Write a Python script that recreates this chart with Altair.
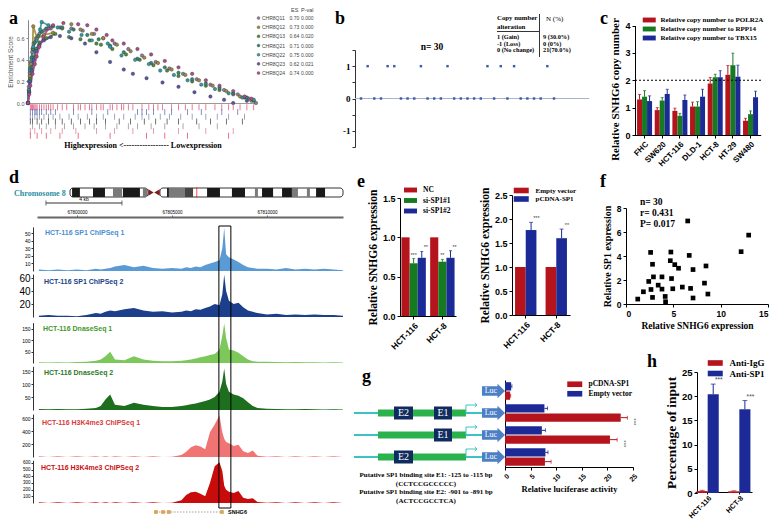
import altair as alt
import pandas as pd

# ============================ DATA ============================
# (a) GSEA of chromosome 8q cytobands
gsea_sets = ["CHR8Q11", "CHR8Q12", "CHR8Q13", "CHR8Q21", "CHR8Q22", "CHR8Q23", "CHR8Q24"]
gsea_es = [0.70, 0.73, 0.64, 0.71, 0.75, 0.62, 0.74]
gsea_p = ["0.000", "0.000", "0.020", "0.000", "0.000", "0.021", "0.000"]

q11_rank = [0, 0.004, 0.008, 0.012, 0.018, 0.025, 0.035, 0.05, 0.07, 0.1, 0.14, 0.19, 0.24, 0.29, 0.33, 0.38, 0.44, 0.5, 0.56, 0.62, 0.68, 0.74, 0.8, 0.86, 0.92, 0.97, 1.0]
q11_es = [0, 0.15, 0.28, 0.38, 0.47, 0.55, 0.6, 0.64, 0.67, 0.69, 0.70, 0.69, 0.67, 0.64, 0.6, 0.55, 0.5, 0.44, 0.38, 0.32, 0.27, 0.22, 0.17, 0.12, 0.08, 0.04, 0.0]
q12_rank = [0, 0.004, 0.008, 0.013, 0.02, 0.023, 0.04, 0.07, 0.11, 0.15, 0.19, 0.23, 0.28, 0.33, 0.39, 0.45, 0.51, 0.57, 0.63, 0.69, 0.75, 0.81, 0.87, 0.93, 0.98]
q12_es = [0, 0.12, 0.25, 0.36, 0.5, 0.71, 0.6, 0.63, 0.65, 0.69, 0.73, 0.68, 0.64, 0.6, 0.54, 0.48, 0.42, 0.37, 0.31, 0.26, 0.21, 0.16, 0.11, 0.06, 0.02]
q13_rank = [0, 0.005, 0.01, 0.016, 0.024, 0.035, 0.05, 0.08, 0.12, 0.18, 0.23, 0.27, 0.3, 0.32, 0.37, 0.43, 0.49, 0.55, 0.61, 0.66, 0.72, 0.78, 0.84, 0.9, 0.95, 0.99]
q13_es = [0, 0.1, 0.22, 0.33, 0.42, 0.5, 0.56, 0.6, 0.64, 0.61, 0.59, 0.58, 0.55, 0.54, 0.5, 0.45, 0.4, 0.35, 0.3, 0.25, 0.2, 0.16, 0.12, 0.08, 0.05, 0.02]
q21_rank = [0, 0.004, 0.009, 0.015, 0.022, 0.03, 0.045, 0.06, 0.08, 0.11, 0.15, 0.2, 0.26, 0.31, 0.36, 0.42, 0.48, 0.54, 0.6, 0.66, 0.72, 0.78, 0.84, 0.9, 0.96]
q21_es = [0, 0.2, 0.32, 0.42, 0.5, 0.56, 0.62, 0.66, 0.69, 0.71, 0.7, 0.68, 0.63, 0.59, 0.53, 0.47, 0.41, 0.37, 0.33, 0.28, 0.22, 0.18, 0.14, 0.09, 0.05]
q22_rank = [0, 0.004, 0.009, 0.016, 0.023, 0.038, 0.053, 0.06, 0.09, 0.13, 0.18, 0.235, 0.28, 0.35, 0.36, 0.41, 0.47, 0.53, 0.58, 0.64, 0.7, 0.76, 0.82, 0.88, 0.94, 0.99]
q22_es = [0, 0.12, 0.3, 0.4, 0.52, 0.58, 0.68, 0.75, 0.72, 0.7, 0.66, 0.63, 0.58, 0.55, 0.52, 0.44, 0.4, 0.36, 0.3, 0.26, 0.21, 0.17, 0.13, 0.09, 0.05, 0.03]
q23_rank = [0, 0.005, 0.01, 0.017, 0.025, 0.035, 0.05, 0.07, 0.1, 0.14, 0.19, 0.25, 0.3, 0.36, 0.42, 0.46, 0.52, 0.59, 0.66, 0.73, 0.8, 0.86, 0.9, 0.96]
q23_es = [0, 0.1, 0.2, 0.3, 0.4, 0.48, 0.54, 0.58, 0.61, 0.62, 0.6, 0.55, 0.47, 0.38, 0.31, 0.27, 0.23, 0.19, 0.15, 0.1, 0.06, 0.03, 0.0, 0.02]
q24_rank = [0, 0.005, 0.01, 0.02, 0.03, 0.038, 0.05, 0.067, 0.09, 0.11, 0.155, 0.22, 0.26, 0.3, 0.345, 0.37, 0.42, 0.48, 0.54, 0.6, 0.66, 0.72, 0.78, 0.84, 0.9, 0.95, 0.98]
q24_es = [0, 0.08, 0.16, 0.27, 0.36, 0.43, 0.52, 0.61, 0.69, 0.72, 0.74, 0.73, 0.72, 0.68, 0.63, 0.58, 0.55, 0.5, 0.45, 0.39, 0.33, 0.27, 0.21, 0.16, 0.11, 0.06, 0.04]

rug_1 = [0.01, 0.015, 0.02, 0.025, 0.03, 0.035, 0.04, 0.05, 0.06, 0.07, 0.08, 0.09, 0.1, 0.11, 0.13, 0.15, 0.17, 0.2, 0.22, 0.23, 0.25, 0.27, 0.28, 0.3, 0.32, 0.33, 0.36, 0.37, 0.39, 0.41, 0.42, 0.44, 0.46, 0.5, 0.53, 0.55, 0.57, 0.59, 0.63, 0.66, 0.69, 0.72, 0.75, 0.78, 0.82, 0.85, 0.88, 0.9, 0.93, 0.96, 0.99]
rug_2 = [0.01, 0.02, 0.03, 0.035, 0.04, 0.05, 0.06, 0.08, 0.1, 0.12, 0.2, 0.28, 0.35, 0.48, 0.5, 0.52, 0.55, 0.6, 0.63, 0.7, 0.76, 0.85, 0.92]
rug_3 = [0.01, 0.02, 0.03, 0.04, 0.05, 0.07, 0.09, 0.11, 0.14, 0.18, 0.22, 0.26, 0.3, 0.33, 0.38, 0.42, 0.47, 0.5, 0.53, 0.58, 0.62, 0.67, 0.72, 0.78, 0.83, 0.88, 0.95]
rug_4 = [0.01, 0.02, 0.04, 0.06, 0.09, 0.12, 0.15, 0.19, 0.23, 0.27, 0.3, 0.34, 0.4, 0.45, 0.51, 0.56, 0.61, 0.66, 0.74, 0.8, 0.87, 0.94]
rug_5 = [0.02, 0.05, 0.08, 0.12, 0.16, 0.2, 0.25, 0.29, 0.34, 0.39, 0.44, 0.48, 0.54, 0.6, 0.68, 0.75, 0.83]
rug_6 = [0.01, 0.03, 0.06, 0.1, 0.15, 0.21, 0.3, 0.38, 0.46, 0.55, 0.66, 0.78, 0.9]
rug_7 = [0.01, 0.04, 0.08, 0.14, 0.22, 0.36, 0.52, 0.6, 0.7, 0.88]

# (b) copy number of 30 samples
cn_status = [0, 1, 0, 0, 1, 1, 0, 0, 0, 1, 0, 0, 0, 1, 0, 0, 0, 0, 0, 1, 0, 1, 0, 1, 0, 0, 0, 0, 1, 0]

# (c) relative SNHG6 copy number
c_cells = ["FHC", "SW620", "HCT-116", "DLD-1", "HCT-8", "HT-29", "SW480"]
c_refs = ["Relative copy number to POLR2A", "Relative copy number to RPP14", "Relative copy number to TBX15"]
cn_polr2a = [1.30, 0.91, 0.88, 1.04, 1.88, 2.20, 0.52]
cn_polr2a_err = [0.18, 0.09, 0.10, 0.16, 0.22, 0.34, 0.09]
cn_rpp14 = [1.40, 1.26, 0.70, 1.04, 2.11, 2.55, 0.76]
cn_rpp14_err = [0.22, 0.11, 0.09, 0.18, 0.11, 0.44, 0.12]
cn_tbx15 = [1.24, 1.50, 1.28, 1.40, 2.11, 2.13, 1.38]
cn_tbx15_err = [0.19, 0.17, 0.18, 0.27, 0.24, 0.42, 0.22]

# (d) genome browser tracks (position in kb relative to chr8:67,800,000)
kb_grid = [-2.0, -1.5, -1.0, -0.5, 0.0, 0.5, 1.0, 1.25, 1.5, 1.75, 2.0, 2.5, 3.0, 3.5, 4.0, 4.5, 5.0, 5.5, 5.75, 6.0,
           6.25, 6.5, 6.75, 7.0, 7.25, 7.5, 7.65, 7.75, 7.85, 8.0, 8.25, 8.5, 8.75, 9.0, 9.25, 9.5, 10.0, 10.5, 11.0, 11.5,
           12.0, 12.5, 13.0, 13.5, 14.0]
sp1_chip1 = [2, 1, 2, 1, 2, 1, 3, 2, 3, 4, 6, 8, 5, 7, 4, 3, 4, 3, 5, 4, 6, 5, 8, 10, 12, 14, 30, 57, 22, 18, 15, 12, 8, 5, 4, 3, 3, 2, 4, 2, 3, 2, 3, 2, 1]
sp1_chip2 = [2, 3, 2, 2, 1, 3, 6, 5, 8, 10, 9, 12, 14, 10, 8, 9, 7, 8, 10, 9, 12, 11, 14, 16, 20, 18, 35, 65, 40, 25, 20, 22, 15, 10, 8, 6, 4, 5, 3, 4, 3, 4, 3, 3, 2]
dnase1 = [3, 2, 3, 2, 4, 6, 10, 15, 30, 50, 15, 12, 30, 15, 10, 8, 8, 10, 12, 15, 20, 25, 30, 35, 40, 60, 120, 175, 110, 60, 55, 45, 30, 15, 8, 6, 5, 4, 3, 4, 3, 3, 2, 3, 2]
dnase2 = [4, 3, 4, 3, 3, 5, 8, 15, 40, 60, 20, 15, 28, 20, 15, 12, 12, 15, 18, 22, 25, 30, 35, 40, 50, 70, 110, 160, 100, 70, 60, 55, 45, 30, 15, 8, 5, 4, 3, 3, 4, 3, 2, 3, 2]
h3k4me3_1 = [12, 0, 12, 0, 12, 0, 12, 0, 12, 0, 12, 0, 12, 0, 12, 0, 5, 30, 80, 150, 180, 160, 120, 380, 500, 640, 380, 280, 230, 210, 170, 190, 90, 60, 100, 20, 5, 12, 0, 12, 0, 12, 0, 12, 0]
h3k4me3_2 = [12, 0, 12, 0, 12, 0, 12, 0, 12, 0, 12, 0, 12, 0, 12, 0, 5, 40, 120, 160, 170, 140, 100, 300, 550, 610, 480, 260, 200, 170, 150, 180, 80, 60, 70, 15, 5, 12, 0, 12, 0, 12, 0, 12, 0]
snhg6_exons_kb = [4.16, 4.53, 4.84, 7.63]
peak_box_kb = [7.47, 8.1]

# chromosome 8 ideogram (Mb)
chr_arm_start = [0.0, 48.1]
chr_arm_end = [41.7, 146.0]
band_start = [1.1, 12.3, 28.3, 51.9, 73.3, 86.6, 102.7, 113.4, 131.6, 23.0, 39.0, 52.9, 98.9, 118.7, 126.7, 61.5]
band_end = [5.3, 18.7, 37.4, 52.9, 80.2, 93.6, 108.6, 118.7, 136.4, 27.8, 41.2, 61.5, 100.5, 121.9, 128.3, 65.8]
band_stain = ["k", "k", "k", "k", "k", "k", "k", "k", "k", "g", "g", "g", "g", "g", "g", "d"]
snhg6_locus_mb = 67.8

# (e) SNHG6 expression after SP1 knockdown / overexpression
e_cells = ["HCT-116", "HCT-8"]
e1_conds = ["NC", "si-SP1#1", "si-SP1#2"]
nc_val = [1.0, 1.0]
si1_val = [0.67, 0.69]
si1_err = [0.06, 0.03]
si2_val = [0.74, 0.74]
si2_err = [0.08, 0.09]
si1_sig = ["***", "**"]
si2_sig = ["**", "**"]
e2_conds = ["Empty vector", "pCDNA-SP1"]
ev_val = [1.0, 1.0]
oe_val = [1.77, 1.60]
oe_err = [0.16, 0.19]
oe_sig = ["***", "**"]

# (f) SP1 vs SNHG6 expression (n = 30)
snhg6_expr = [1.24, 1.84, 2.4, 2.6, 2.64, 2.8, 2.8, 2.9, 3.4, 3.8, 3.8, 4.14, 4.18, 4.68, 4.74, 4.81, 4.94, 5.15, 5.55, 5.95, 6.52, 6.68, 6.82, 7.08, 7.08, 8.29, 8.45, 8.65, 12.16, 12.96]
sp1_expr = [0.41, 1.02, 1.88, 4.3, 1.21, 3.31, 0.55, 2.26, 1.57, 2.26, 1.24, 0.63, 0.19, 3.61, 4.33, 2.12, 1.27, 3.28, 2.98, 1.41, 6.92, 4.05, 1.30, 2.87, 0.50, 1.74, 3.17, 0.83, 4.36, 5.74]

# (g) luciferase reporter
g_constructs = ["Basic", "E2+E1", "E1", "E2"]
g_series = ["Empty vector", "pCDNA-SP1"]
luc_empty = [1.2, 7.7, 7.2, 7.9]
luc_empty_err = [0.15, 0.6, 0.7, 0.5]
luc_sp1 = [1.0, 22.6, 20.5, 7.8]
luc_sp1_err = [0.1, 1.3, 1.4, 1.2]
luc_sig = ["", "***", "***", ""]
site_construct = ["E2+E1", "E2+E1", "E1", "E2"]
site_name = ["E2", "E1", "E1", "E2"]
site_start = [31.25, 62.5, 62.5, 31.25]
site_end = [46.1, 76.6, 76.6, 46.1]

# (h) ChIP-qPCR
h_series = ["Anti-IgG", "Anti-SP1"]
igg_val = [0.4, 0.35]
igg_err = [0.15, 0.1]
chip_sp1 = [20.4, 17.3]
chip_sp1_err = [2.1, 1.8]

# ============================ STYLE / HELPERS ============================
SERIF = "Liberation Serif"
SANS = "Liberation Sans"
W, H = 762, 514
RED, GREEN, BLUE = "#b5141d", "#157a20", "#1b2a97"
LEG_PATH = "M-2,-0.75L2,-0.75L2,0.75L-2,0.75Z"
LUC_PATH = "M-1,-0.42L0.35,-0.42L0.35,-0.62L1,0L0.35,0.62L0.35,0.42L-1,0.42Z"
TSS_PATH = "M0,0L0,-1L1.35,-1M1.1,-1.25L1.38,-1L1.1,-0.75"


def X(p):
    return p - 8


def Y(p):
    return p - 8


def lin(d0, d1, p0, p1):
    return alt.Scale(domain=[d0, d1], range=[p0, p1], zero=False, nice=False)


def one():
    return pd.DataFrame({"k": [0]})


def txt(s, x, y, size=9, font=SERIF, weight="bold", color="black", align="left", baseline="middle", angle=0):
    kw = dict(text=s, font=font, fontSize=size, fontWeight=weight, color=color, align=align, baseline=baseline)
    if angle:
        kw["angle"] = angle
    return alt.Chart(one()).mark_text(**kw).encode(x=alt.value(X(x)), y=alt.value(Y(y)))


def seg(x1, y1, x2, y2, color="black", w=1.0):
    return alt.Chart(one()).mark_rule(color=color, strokeWidth=w).encode(
        x=alt.value(X(x1)), y=alt.value(Y(y1)), x2=alt.value(X(x2)), y2=alt.value(Y(y2)))


def axis(orient, pos, **kw):
    d = dict(orient=orient, grid=False, labelFont=SANS, labelFontWeight="bold", labelFontSize=9, tickSize=3,
             domainColor="black", tickColor="black", labelColor="black", titleFont=SERIF, titleFontWeight="bold",
             titleColor="black", labelOverlap=False, labelFlush=False)
    if orient == "left":
        d["offset"] = -X(pos)
    else:
        d["offset"] = Y(pos) - H
    d.update(kw)
    return alt.Axis(**d)


def legend(cx, cy, size, sw, textx, rp=1.0):
    s = sw / 4.0
    return alt.Legend(orient="none", legendX=X(cx - s), legendY=Y(cy - size / 2.0), title=None,
                      symbolType=LEG_PATH, symbolSize=(2 * s) ** 2, symbolStrokeWidth=0, symbolOpacity=1,
                      labelFont=SERIF, labelFontWeight="bold", labelFontSize=size, labelColor="black",
                      labelOffset=textx - cx - s, padding=0, rowPadding=rp)


def vbars(df, groups, series, colors, xr, pi, po, ydom, yr, yax, xax, leg, cap=4, star_size=5.5):
    xs = alt.Scale(domain=groups, range=[X(xr[0]), X(xr[1])], paddingInner=pi, paddingOuter=po)
    xo = alt.Scale(domain=series, paddingInner=0, paddingOuter=0)
    ys = lin(ydom[0], ydom[1], Y(yr[0]), Y(yr[1]))
    cs = alt.Scale(domain=series, range=colors)
    out = []
    out.append(alt.Chart(df).mark_bar().encode(
        x=alt.X("grp:N", scale=xs, axis=xax, sort=groups),
        xOffset=alt.XOffset("ser:N", scale=xo, sort=series),
        y=alt.Y("val:Q", scale=ys, axis=yax),
        color=alt.Color("ser:N", scale=cs, legend=leg, sort=series)))
    eb = alt.Chart(df).transform_filter("datum.err > 0").transform_calculate(hi="datum.val + datum.err")
    xe = alt.X("grp:N", scale=xs, axis=None, sort=groups)
    xoe = alt.XOffset("ser:N", scale=xo, sort=series)
    ce = alt.Color("ser:N", scale=cs, legend=None)
    out.append(eb.mark_rule(strokeWidth=1).encode(x=xe, xOffset=xoe, color=ce,
                                                  y=alt.Y("val:Q", scale=ys, axis=None), y2="hi:Q"))
    out.append(eb.mark_tick(thickness=1, size=cap).encode(x=xe, xOffset=xoe, color=ce,
                                                          y=alt.Y("hi:Q", scale=ys, axis=None)))
    out.append(eb.transform_filter("datum.sig != ''").mark_text(
        fontSize=star_size, font=SANS, color="#444", baseline="bottom", dy=-1).encode(
        x=xe, xOffset=xoe, y=alt.Y("hi:Q", scale=ys, axis=None), text="sig:N"))
    return out


layers = []
L = layers.append

# ============================ PANEL a ============================
gsea_cols = ["#8e7b9b", "#a08b3d", "#4e8b3b", "#2e8a6f", "#2c9ba8", "#5a55a8", "#b14a8d"]
ranks = [q11_rank, q12_rank, q13_rank, q21_rank, q22_rank, q23_rank, q24_rank]
scores = [q11_es, q12_es, q13_es, q21_es, q22_es, q23_es, q24_es]
gsea_df = pd.concat([pd.DataFrame({"set": n, "rank": r, "es": e}) for n, r, e in zip(gsea_sets, ranks, scores)],
                    ignore_index=True)
a_xs = lin(0, 1, X(28), X(256))
a_ys = lin(0, 0.77, Y(103), Y(103 - 0.77 * 108))
a_col = alt.Scale(domain=gsea_sets, range=gsea_cols)
L(alt.Chart(gsea_df).transform_filter("datum.rank <= 0.12").mark_line(strokeWidth=1.8, opacity=0.9).encode(
    x=alt.X("rank:Q", scale=a_xs, axis=axis("bottom", 103, labels=False, ticks=False, title=None, domainColor="#9a9a9a")),
    y=alt.Y("es:Q", scale=a_ys, axis=axis("left", 28, values=[0, 0.2, 0.4, 0.6], format=".1f", labelFontSize=5.5,
                                          labelFontWeight="normal", labelColor="#555", tickColor="#888", tickSize=2,
                                          domainColor="#888", title="Enrichment Score", titleFont=SANS,
                                          titleFontSize=6.5, titleFontWeight="normal", titleColor="#555",
                                          titlePadding=3)),
    color=alt.Color("set:N", scale=a_col, legend=None), order="rank:Q"))
L(alt.Chart(gsea_df).mark_circle(size=12, stroke="#333", strokeWidth=0.4, opacity=1).encode(
    x=alt.X("rank:Q", scale=a_xs, axis=None), y=alt.Y("es:Q", scale=a_ys, axis=None),
    color=alt.Color("set:N", scale=a_col, legend=None)))

leg_df = pd.DataFrame({"set": gsea_sets, "es": [f"{v:.2f}" for v in gsea_es], "p": gsea_p})
a_rows = alt.Scale(type="point", domain=gsea_sets, range=[Y(18), Y(73)], padding=0)
L(alt.Chart(leg_df).mark_circle(size=9, stroke="#444", strokeWidth=0.3, opacity=1).encode(
    x=alt.value(X(258.5)), y=alt.Y("set:N", scale=a_rows, axis=None), color=alt.Color("set:N", scale=a_col, legend=None)))
for col, xx in [("set", 262), ("es", 289.5), ("p", 301)]:
    L(alt.Chart(leg_df).mark_text(font=SANS, fontSize=5, color="#444", align="left", baseline="middle").encode(
        x=alt.value(X(xx)), y=alt.Y("set:N", scale=a_rows, axis=None), text=f"{col}:N"))
L(txt("ES", 291, 10, size=5.5, font=SANS, weight="normal", color="#444"))
L(txt("P-val", 301, 10, size=5.5, font=SANS, weight="normal", color="#444"))

rug_rows = [rug_1, rug_2, rug_3, rug_4, rug_5, rug_6, rug_7]
rug_names = [f"r{i + 1}" for i in range(7)]
rug_cols = ["#e04a6a", "#5566b5", "#7a86a0", "#3e3e3e", "#8c8c8c", "#e27a94", "#d8405a"]
rug_df = pd.concat([pd.DataFrame({"row": n, "rank": r}) for n, r in zip(rug_names, rug_rows)], ignore_index=True)
L(alt.Chart(rug_df).mark_tick(thickness=0.8, size=6, opacity=0.9).encode(
    x=alt.X("rank:Q", scale=a_xs, axis=None),
    y=alt.Y("row:N", scale=alt.Scale(type="band", domain=rug_names, range=[Y(105), Y(138)], paddingInner=0, paddingOuter=0), axis=None),
    color=alt.Color("row:N", scale=alt.Scale(domain=rug_names, range=rug_cols), legend=None)))
L(txt("Highexpression <----------------- Lowexpression", 143, 146, size=8, align="center"))

# ============================ PANEL b ============================
b_df = pd.DataFrame({"idx": list(range(len(cn_status))), "cn": cn_status})
b_xs = lin(0, 29, X(361), X(554))
b_ys = lin(-1.5, 1.5, Y(147), Y(50))
L(alt.Chart(one()).mark_rule(color="#a9b3d0", strokeWidth=1).encode(
    x=alt.X(datum=-0.9, scale=b_xs, axis=None), x2=alt.X2(datum=34.3), y=alt.Y(datum=0, scale=b_ys, axis=None)))
L(alt.Chart(b_df).mark_square(size=6, color="#3c5ca8", opacity=1).encode(
    x=alt.X("idx:Q", scale=b_xs, axis=None),
    y=alt.Y("cn:Q", scale=b_ys, axis=axis("left", 355, values=[-1.5, -1, -0.5, 0, 0.5, 1, 1.5],
                                          labelExpr="datum.value == 1 ? '1' : (datum.value == 0 ? '0' : (datum.value == -1 ? '-1' : ''))",
                                          labelFont=SERIF, labelFontSize=9, title=None, domainColor="#333", tickColor="#333"))))
L(txt("n= 30", 432, 47, size=9.5, align="center"))
L(txt("Copy number", 497, 18, size=6.8))
L(txt("alteration", 497, 27, size=6.8))
L(txt("N (%)", 546, 19, size=7, weight="normal"))
L(seg(497, 31.5, 539, 31.5, w=0.8))
L(seg(539.5, 14, 539.5, 57, w=0.8))
for s, yy in [("1 (Gain)", 37), ("-1 (Loss)", 43.5), ("0 (No change)", 50)]:
    L(txt(s, 497, yy, size=6.3))
for s, yy in [("9 (30.0%)", 37), ("0 (0%)", 43.5), ("21(70.0%)", 50)]:
    L(txt(s, 543, yy, size=6.3))

# ============================ PANEL c ============================
c_df = pd.DataFrame({"grp": c_cells * 3, "ser": sum([[r] * 7 for r in c_refs], []),
                     "val": cn_polr2a + cn_rpp14 + cn_tbx15, "err": cn_polr2a_err + cn_rpp14_err + cn_tbx15_err,
                     "sig": [""] * 21})
for lay in vbars(c_df, c_cells, c_refs, [RED, GREEN, BLUE], (634.4, 760.7), 0.15, 0.15, (0, 4), (135, 25.5),
                 axis("left", 635, values=[0, 1, 2, 3, 4], title="Relative SNHG6 copy number", titleFontSize=11,
                      titlePadding=4, titleY=Y(89)),
                 axis("bottom", 135, labelAngle=315, labelFontSize=8, title=None),
                 legend(649, 20, 7, 13, 660, rp=1.0), cap=3):
    L(lay)
L(alt.Chart(one()).mark_rule(color="black", strokeDash=[2, 2], strokeWidth=1).encode(
    x=alt.X(datum=0, scale=lin(0, 1, X(635), X(762)), axis=None), x2=alt.X2(datum=1),
    y=alt.Y(datum=2, scale=lin(0, 4, Y(135), Y(25.5)), axis=None)))

# ============================ PANEL d ============================
d_xs = lin(-2.1, 14.0, X(37), X(343))
tracks = [
    (sp1_chip1, "#5b9bd5", 58, 271, 0.76, [10, 20, 30, 40, 50], 5, "HCT-116 SP1 ChIPSeq 1", "#4a90d0", 45, 233),
    (sp1_chip2, "#1b3f8b", 66, 317, 0.65, [20, 40, 60], 10, "HCT-116 SP1 ChIPSeq 2", "#1b3f8b", 44, 282),
    (dnase1, "#7cc85a", 178, 363, 0.2267, [50, 100, 150], 5, "HCT-116 DnaseSeq 1", "#3f9a2a", 43, 329),
    (dnase2, "#1d6e1d", 168, 410, 0.26, [50, 100, 150], 5, "HCT-116 DnaseSeq 2", "#2a7a2a", 44, 373),
    (h3k4me3_1, "#f07474", 660, 457, 0.065, [200, 400, 600], 5, "HCT-116 H3K4me3 ChIPSeq 1", "#d83a3a", 42, 423),
    (h3k4me3_2, "#c80c0c", 640, 503, 0.0667, [100, 200, 300, 400, 500, 600], 4.5, "HCT-116 H3K4me3 ChIPSeq 2", "#c81010", 41, 468),
]
for vals, colr, dmax, y0, ppu, ticks, fs, title, tcol, tx, ty in tracks:
    ys = lin(0, dmax, Y(y0), Y(y0 - dmax * ppu))
    tdf = pd.DataFrame({"kb": kb_grid, "v": vals})
    L(alt.Chart(tdf).mark_area(color=colr, interpolate="linear", opacity=1).encode(
        x=alt.X("kb:Q", scale=d_xs, axis=None),
        y=alt.Y("v:Q", scale=ys, axis=axis("left", 33, values=ticks, labelFontSize=fs, labelFontWeight="normal",
                                           tickSize=2, domainColor="#333", tickColor="#333", title=None,
                                           labelPadding=1))))
    L(txt(title, tx, ty, size=7, font=SANS, color=tcol))

# box around SP1 peak
L(alt.Chart(one()).mark_rect(filled=False, color="black", strokeWidth=1).encode(
    x=alt.X(datum=peak_box_kb[0], scale=d_xs, axis=None), x2=alt.X2(datum=peak_box_kb[1]),
    y=alt.Y(datum=0, scale=lin(0, 1, Y(508), Y(226)), axis=None), y2=alt.Y2(datum=1)))

# gene model
gene_y = alt.Scale(type="band", domain=["SNHG6"], range=[Y(507), Y(517)], paddingInner=0, paddingOuter=0)
gene_df = pd.DataFrame({"gene": ["SNHG6"], "s": [min(snhg6_exons_kb)], "e": [max(snhg6_exons_kb)]})
L(alt.Chart(gene_df).mark_rule(color="#888", strokeWidth=0.8, strokeDash=[1.5, 1.5]).encode(
    x=alt.X("s:Q", scale=d_xs, axis=None), x2="e:Q", y=alt.Y("gene:N", scale=gene_y, axis=None)))
L(alt.Chart(pd.DataFrame({"gene": "SNHG6", "kb": snhg6_exons_kb})).mark_square(size=14, color="#d9a55a", opacity=1).encode(
    x=alt.X("kb:Q", scale=d_xs, axis=None), y=alt.Y("gene:N", scale=gene_y, axis=None)))
L(txt("SNHG6", 228, 512, size=5.5, font=SANS))

# genomic coordinate axis + 4 kb scale bar
sb_y = alt.Scale(type="band", domain=["bar"], range=[Y(200), Y(206)], paddingInner=0, paddingOuter=0)
L(alt.Chart(pd.DataFrame({"r": ["bar"], "s": [-1.63], "e": [2.37]})).mark_rule(color="#333", strokeWidth=1).encode(
    x=alt.X("s:Q", scale=d_xs, axis=axis("top", 0, values=[0, 5, 10], offset=-Y(217),
                                          labelExpr="format(67800000 + datum.value * 1000, 'd')",
                                          labelFontSize=4.5, labelFontWeight="normal", tickSize=2,
                                          domainWidth=2, domainColor="#666", tickColor="#666", title=None,
                                          labelPadding=1)),
    x2="e:Q", y=alt.Y("r:N", scale=sb_y, axis=None)))
L(alt.Chart(pd.DataFrame({"r": ["bar", "bar"], "p": [-1.63, 2.37]})).mark_tick(color="#333", thickness=1, size=5).encode(
    x=alt.X("p:Q", scale=d_xs, axis=None), y=alt.Y("r:N", scale=sb_y, axis=None)))
L(txt("4 kb", 84, 199, size=5, font=SANS, weight="normal", align="center"))

# ideogram
ch_xs = lin(0, 146, X(70), X(343))
ch_y = alt.Scale(type="band", domain=["chr8"], range=[Y(188), Y(197)], paddingInner=0, paddingOuter=0)
L(alt.Chart(pd.DataFrame({"c": "chr8", "s": chr_arm_start, "e": chr_arm_end})).mark_bar(
    color="white", stroke="black", strokeWidth=0.8, cornerRadius=3).encode(
    x=alt.X("s:Q", scale=ch_xs, axis=None), x2="e:Q", y=alt.Y("c:N", scale=ch_y, axis=None)))
L(alt.Chart(pd.DataFrame({"c": "chr8", "s": band_start, "e": band_end, "st": band_stain})).mark_bar().encode(
    x=alt.X("s:Q", scale=ch_xs, axis=None), x2="e:Q", y=alt.Y("c:N", scale=ch_y, axis=None),
    color=alt.Color("st:N", scale=alt.Scale(domain=["k", "g", "d"], range=["#1a1a1a", "#7a7a7a", "#444444"]), legend=None)))
L(alt.Chart(pd.DataFrame({"c": "chr8", "m": [43.3, 46.5], "sh": ["triangle-right", "triangle-left"]})).mark_point(
    filled=True, size=40, color="#7a1f1f", opacity=1).encode(
    x=alt.X("m:Q", scale=ch_xs, axis=None), y=alt.Y("c:N", scale=ch_y, axis=None),
    shape=alt.Shape("sh:N", scale=None, legend=None)))
L(alt.Chart(pd.DataFrame({"c": ["chr8"], "m": [snhg6_locus_mb]})).mark_tick(color="red", thickness=1, size=10).encode(
    x=alt.X("m:Q", scale=ch_xs, axis=None), y=alt.Y("c:N", scale=ch_y, axis=None)))
L(txt("Chromosome 8", 14, 193.5, size=8, color="#2a8fa3"))

# ============================ PANEL e ============================
e1_df = pd.DataFrame({"grp": e_cells * 3, "ser": sum([[c] * 2 for c in e1_conds], []),
                      "val": nc_val + si1_val + si2_val, "err": [0, 0] + si1_err + si2_err,
                      "sig": ["", ""] + si1_sig + si2_sig})
for lay in vbars(e1_df, e_cells, e1_conds, [RED, GREEN, BLUE], (400, 456), 0.15, 0.05, (0, 1.5), (316, 198),
                 axis("left", 400, values=[0, 0.5, 1.0, 1.5], format=".1f", title="Relative SNHG6  expression",
                      titleFontSize=11.5, titlePadding=4),
                 axis("bottom", 316, labelAngle=315, labelFontSize=8.5, title=None),
                 legend(410, 190, 7.5, 13, 422, rp=1.5), cap=3):
    L(lay)

e2_df = pd.DataFrame({"grp": e_cells * 2, "ser": sum([[c] * 2 for c in e2_conds], []),
                      "val": ev_val + oe_val, "err": [0, 0] + oe_err, "sig": ["", ""] + oe_sig})
for lay in vbars(e2_df, e_cells, e2_conds, [RED, BLUE], (512, 570), 0.3, 0.1, (0, 2.5), (315, 195),
                 axis("left", 512, values=[0, 0.5, 1.0, 1.5, 2.0, 2.5], format=".1f", title="Relative SNHG6  expression",
                      titleFontSize=11.5, titlePadding=4),
                 axis("bottom", 315, labelAngle=315, labelFontSize=8.5, title=None),
                 legend(521, 190, 7, 15, 535, rp=1.5), cap=4):
    L(lay)

# ============================ PANEL f ============================
f_df = pd.DataFrame({"snhg6": snhg6_expr, "sp1": sp1_expr})
L(alt.Chart(f_df).mark_square(size=22, color="black", opacity=1).encode(
    x=alt.X("snhg6:Q", scale=lin(0, 15, X(626), X(768)),
            axis=axis("bottom", 304, values=[0, 5, 10, 15], title="Relative SNHG6 expression", titleFontSize=9.5,
                      titlePadding=3, labelFontSize=8.5, labelFlush=True)),
    y=alt.Y("sp1:Q", scale=lin(0, 8, Y(304), Y(208)),
            axis=axis("left", 626, values=[0, 2, 4, 6, 8], title="Relative SP1 expression", titleFontSize=10,
                      titlePadding=4, labelFontSize=8.5))))
L(txt("n= 30", 640, 202, size=9.5))
L(txt("r= 0.431", 640, 213, size=9.5))
L(txt("P= 0.017", 640, 224, size=9.5))

# ============================ PANEL g ============================
g_ys = alt.Scale(type="band", domain=g_constructs, range=[Y(380), Y(468)], paddingInner=0.2, paddingOuter=0.1)
g_dx = lin(0, 118, X(354), X(505))
prom_df = pd.DataFrame({"row": g_constructs[1:]})
L(alt.Chart(prom_df).mark_rule(color="#3cc4c4", strokeWidth=2).encode(
    x=alt.X(datum=0, scale=g_dx, axis=None), x2=alt.X2(datum=100), y=alt.Y("row:N", scale=g_ys, axis=None)))
L(alt.Chart(prom_df).mark_bar(size=7, color="#2bb24c").encode(
    x=alt.X(datum=18.75, scale=g_dx, axis=None), x2=alt.X2(datum=87.5), y=alt.Y("row:N", scale=g_ys, axis=None)))
site_df = pd.DataFrame({"row": site_construct, "site": site_name, "s": site_start, "e": site_end})
L(alt.Chart(site_df).mark_bar(size=13, color="#102b5e").encode(
    x=alt.X("s:Q", scale=g_dx, axis=None), x2="e:Q", y=alt.Y("row:N", scale=g_ys, axis=None)))
L(alt.Chart(site_df).transform_calculate(m="(datum.s + datum.e) / 2").mark_text(
    font=SERIF, fontSize=10, color="white", align="center", baseline="middle").encode(
    x=alt.X("m:Q", scale=g_dx, axis=None), y=alt.Y("row:N", scale=g_ys, axis=None), text="site:N"))
L(alt.Chart(prom_df).mark_point(shape=TSS_PATH, size=256, filled=False, color="#3cc4c4", strokeWidth=1, opacity=1).encode(
    x=alt.X(datum=87.5, scale=g_dx, axis=None), y=alt.Y("row:N", scale=g_ys, axis=None)))
luc_df = pd.DataFrame({"row": g_constructs})
L(alt.Chart(luc_df).mark_point(shape=LUC_PATH, size=529, filled=True, color="#4d7fc4", strokeWidth=0, opacity=1).encode(
    x=alt.X(datum=109, scale=g_dx, axis=None), y=alt.Y("row:N", scale=g_ys, axis=None)))
L(alt.Chart(luc_df).mark_text(text="Luc", font=SERIF, fontSize=8, color="white", align="center", baseline="middle").encode(
    x=alt.X(datum=107, scale=g_dx, axis=None), y=alt.Y("row:N", scale=g_ys, axis=None)))

g_df = pd.DataFrame({"row": g_constructs * 2, "ser": sum([[s] * 4 for s in g_series], []),
                     "val": luc_empty + luc_sp1, "err": luc_empty_err + luc_sp1_err,
                     "sig": [""] * 4 + luc_sig})
g_xs = lin(0, 25, X(505), X(633))
g_yo = alt.Scale(domain=g_series, paddingInner=0.1, paddingOuter=0)
g_cs = alt.Scale(domain=["pCDNA-SP1", "Empty vector"], range=[RED, BLUE])
L(alt.Chart(g_df).mark_bar().encode(
    y=alt.Y("row:N", scale=g_ys, sort=g_constructs,
            axis=axis("left", 505, labels=False, ticks=False, title=None)),
    yOffset=alt.YOffset("ser:N", scale=g_yo, sort=g_series),
    x=alt.X("val:Q", scale=g_xs, axis=axis("bottom", 467, values=[0, 5, 10, 15, 20, 25], labelAngle=315,
                                           labelFontSize=7, title="Relative luciferase activity",
                                           titleFontSize=8.5, titlePadding=2)),
    color=alt.Color("ser:N", scale=g_cs, legend=legend(574.5, 384, 7.5, 15, 588, rp=1.5))))
g_eb = alt.Chart(g_df).transform_calculate(hi="datum.val + datum.err")
g_enc = dict(y=alt.Y("row:N", scale=g_ys, axis=None, sort=g_constructs),
             yOffset=alt.YOffset("ser:N", scale=g_yo, sort=g_series))
L(g_eb.mark_rule(strokeWidth=1).encode(x=alt.X("val:Q", scale=g_xs, axis=None), x2="hi:Q",
                                       color=alt.Color("ser:N", scale=g_cs, legend=None), **g_enc))
L(g_eb.mark_tick(thickness=1, size=4).encode(x=alt.X("hi:Q", scale=g_xs, axis=None),
                                             color=alt.Color("ser:N", scale=g_cs, legend=None), **g_enc))
L(g_eb.transform_filter("datum.sig != ''").transform_calculate(sx="datum.hi + 1.3").mark_text(
    fontSize=6, font=SANS, color="#555", angle=90, align="center", baseline="middle").encode(
    x=alt.X("sx:Q", scale=g_xs, axis=None), text="sig:N", **g_enc))
L(txt("Putative SP1 binding site E1: -125 to -115 bp", 426, 475, size=7, align="center"))
L(txt("(CCTCCGCCCCC)", 426, 483.5, size=7, align="center"))
L(txt("Putative SP1 binding site E2: -901 to -891 bp", 426, 492, size=7, align="center"))
L(txt("(ACTCCGCCTCA)", 426, 500.5, size=7, align="center"))

# ============================ PANEL h ============================
h_df = pd.DataFrame({"grp": e_cells * 2, "ser": sum([[s] * 2 for s in h_series], []),
                     "val": igg_val + chip_sp1, "err": igg_err + chip_sp1_err,
                     "sig": ["", "", "***", "***"]})
for lay in vbars(h_df, e_cells, h_series, [RED, BLUE], (695, 752), 0.3, 0.05, (0, 25), (493, 372),
                 axis("left", 697, values=[0, 5, 10, 15, 20, 25], title="Percentage of input", titleFontSize=13.5,
                      titlePadding=3, labelFontSize=9.5),
                 axis("bottom", 492, labelAngle=315, labelFontSize=7.2, title=None, labelPadding=0, tickSize=2),
                 legend(714.5, 363, 9, 15, 728, rp=0.5), cap=5, star_size=6.5):
    L(lay)

# ============================ PANEL LETTERS ============================
for ch, xx, yy in [("a", 9, 24), ("b", 335, 24), ("c", 600, 24), ("d", 9, 183), ("e", 357, 187),
                   ("f", 600, 187), ("g", 362, 382), ("h", 647, 367)]:
    L(txt(ch, xx, yy, size=18, baseline="alphabetic"))

chart = alt.layer(*layers).resolve_scale(
    x="independent", y="independent", color="independent", xOffset="independent", yOffset="independent",
    shape="independent"
).resolve_axis(x="independent", y="independent").resolve_legend(color="independent").properties(
    width=W, height=H, autosize=alt.AutoSizeParams(type="none"), padding=0
).configure_view(stroke=None).configure_axis(grid=False)

chart.save("out.html", embed_options={"renderer": "svg", "actions": False})
